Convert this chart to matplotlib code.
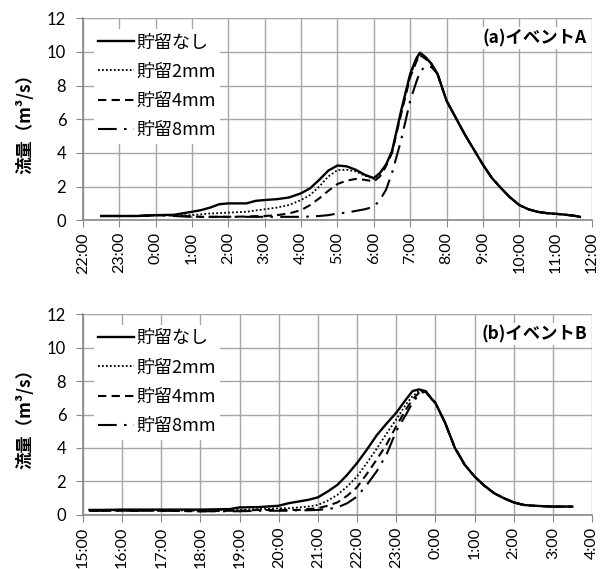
from matplotlib import pyplot as plt
from matplotlib.ticker import MultipleLocator

plt.rcParams['font.family'] = ['Lato', 'Noto Sans CJK JP', 'DejaVu Sans']

legend_names = ["貯留なし", "貯留2mm", "貯留4mm", "貯留8mm"]

# event A (start of axis = 22:00)
a_start = "22:00"
a_ticks = ["22:00", "23:00", "0:00", "1:00", "2:00", "3:00", "4:00", "5:00",
           "6:00", "7:00", "8:00", "9:00", "10:00", "11:00", "12:00"]
a_times = ["22:30", "23:00", "23:30", "0:00", "0:30", "1:00", "1:15", "1:30", "1:45", "2:00",
           "2:30", "2:45", "3:00", "3:20", "3:40", "4:00", "4:15", "4:30", "4:45", "5:00",
           "5:15", "5:30", "5:45", "6:00", "6:10", "6:20", "6:30", "6:45", "7:00", "7:10",
           "7:16", "7:25", "7:35", "7:45", "8:00", "8:15", "8:30", "8:45", "9:00", "9:15",
           "9:30", "9:45", "10:00", "10:15", "10:30", "10:45", "11:00", "11:15", "11:30", "11:40"]
a_tail = [7.1, 6.1, 5.1, 4.2, 3.3, 2.5, 1.9, 1.35, 0.9, 0.65, 0.5, 0.42, 0.38, 0.33, 0.27, 0.2]
a_none = [0.25, 0.25, 0.25, 0.3, 0.32, 0.5, 0.6, 0.75, 0.95, 1.0,
          1.0, 1.15, 1.2, 1.25, 1.35, 1.6, 1.9, 2.4, 2.95, 3.25,
          3.2, 3.0, 2.7, 2.5, 2.8, 3.3, 4.1, 6.5, 8.7, 9.6,
          9.95, 9.7, 9.3, 8.7] + a_tail
a_2mm = [0.25, 0.25, 0.25, 0.3, 0.3, 0.3, 0.35, 0.4, 0.42, 0.45,
         0.5, 0.58, 0.65, 0.75, 0.9, 1.2, 1.5, 2.0, 2.6, 2.98,
         3.0, 2.9, 2.65, 2.45, 2.75, 3.25, 4.05, 6.4, 8.6, 9.5,
         9.85, 9.65, 9.3, 8.7] + a_tail
a_4mm = [0.25, 0.25, 0.25, 0.3, 0.28, 0.22, 0.2, 0.2, 0.2, 0.2,
         0.22, 0.24, 0.25, 0.3, 0.4, 0.6, 0.9, 1.3, 1.75, 2.15,
         2.35, 2.45, 2.4, 2.3, 2.6, 3.2, 4.0, 6.3, 8.5, 9.4,
         9.8, 9.6, 9.25, 8.7] + a_tail
a_8mm = [0.25, 0.25, 0.25, 0.3, 0.25, 0.2, 0.2, 0.2, 0.2, 0.2,
         0.2, 0.2, 0.2, 0.2, 0.2, 0.2, 0.22, 0.25, 0.3, 0.4,
         0.45, 0.55, 0.65, 0.8, 1.2, 1.8, 2.8, 4.75, 7.1, 8.2,
         8.8, 9.15, 9.1, 8.7] + a_tail

# event B (start of axis = 15:00)
b_start = "15:00"
b_ticks = ["15:00", "16:00", "17:00", "18:00", "19:00", "20:00", "21:00", "22:00",
           "23:00", "0:00", "1:00", "2:00", "3:00", "4:00"]
b_times = ["15:10", "15:30", "16:00", "17:00", "18:00", "18:45", "19:00", "19:30", "20:00", "20:15",
           "20:30", "20:45", "21:00", "21:15", "21:30", "21:45", "22:00", "22:15", "22:30", "22:45",
           "23:00", "23:15", "23:25", "23:35", "23:45", "23:55", "0:00", "0:15", "0:30", "0:45",
           "1:00", "1:15", "1:30", "1:45", "2:00", "2:15", "2:30", "3:00", "3:30"]
b_tail = [6.9, 6.7, 5.5, 4.0, 3.0, 2.3, 1.75, 1.3, 1.0, 0.75, 0.6, 0.55, 0.5, 0.5]
b_none = [0.3, 0.3, 0.32, 0.32, 0.32, 0.35, 0.45, 0.47, 0.55, 0.7,
          0.8, 0.9, 1.05, 1.4, 1.8, 2.4, 3.1, 3.9, 4.75, 5.45,
          6.1, 6.9, 7.4, 7.5, 7.4] + b_tail
b_2mm = [0.25, 0.25, 0.28, 0.28, 0.25, 0.3, 0.3, 0.35, 0.4, 0.4,
         0.45, 0.5, 0.6, 0.85, 1.2, 1.7, 2.3, 3.1, 3.95, 4.85,
         5.7, 6.6, 7.1, 7.4, 7.35] + b_tail
b_4mm = [0.25, 0.25, 0.25, 0.25, 0.22, 0.25, 0.25, 0.3, 0.3, 0.3,
         0.3, 0.35, 0.4, 0.55, 0.75, 1.15, 1.65, 2.45, 3.3, 4.2,
         5.3, 6.3, 6.9, 7.3, 7.35] + b_tail
b_8mm = [0.25, 0.25, 0.25, 0.25, 0.22, 0.22, 0.22, 0.25, 0.25, 0.25,
         0.28, 0.28, 0.3, 0.35, 0.45, 0.7, 1.1, 1.8, 2.6, 3.6,
         5.0, 6.0, 6.7, 7.2, 7.4] + b_tail


def to_hours(label, start):
    h, m = map(int, label.split(":"))
    h0, m0 = map(int, start.split(":"))
    diff = (h + m / 60) - (h0 + m0 / 60)
    if diff < 0:
        diff += 24
    return diff


styles = [
    dict(linestyle="-", linewidth=1.7),
    dict(linestyle=(0, (1, 1.2)), linewidth=1.3),
    dict(linestyle=(0, (4, 2.5)), linewidth=1.5),
    dict(linestyle=(0, (9, 3.5, 1.2, 3.5)), linewidth=1.5),
]


def draw_event(ax, start, ticks, times, series, label):
    x = [to_hours(t, start) for t in times]
    for values, name, style in zip(series, legend_names, styles):
        ax.plot(x, values, color="black", label=name, **style)

    # one tick per hour
    tick_pos = list(range(len(ticks)))
    ax.set_xticks(tick_pos)
    ax.set_xticklabels(ticks, rotation=90, fontsize=11.5)
    ax.set_xlim(0, len(ticks) - 1)
    ax.set_ylim(0, 12)
    ax.yaxis.set_major_locator(MultipleLocator(2))
    ax.tick_params(axis="y", labelsize=12, length=5, pad=7, color="#888888")
    ax.tick_params(axis="x", length=5, color="#888888")
    ax.grid(True, color="#a6a6a6", linewidth=1)
    ax.set_axisbelow(True)
    for side in ["top", "right"]:
        ax.spines[side].set_visible(False)
    for side in ["left", "bottom"]:
        ax.spines[side].set_color("#888888")
        ax.spines[side].set_linewidth(1.2)
    ax.set_ylabel("流量（m³/s）", fontsize=12.5, fontweight="bold", labelpad=9,
                  family=["Noto Sans CJK JP", "DejaVu Sans"])

    leg = ax.legend(loc="upper left", bbox_to_anchor=(0.0, 1.0), frameon=True,
                    fancybox=False, edgecolor="none", framealpha=1,
                    handlelength=2.0, handletextpad=0.1, borderpad=0.25,
                    labelspacing=0.62, borderaxespad=0.6,
                    prop=dict(family=["Noto Sans CJK JP"], size=13))
    leg.get_frame().set_linewidth(0)
    ax.text(0.99, 0.9, label, transform=ax.transAxes, ha="right", va="center",
            fontsize=12.5, fontweight="bold", family=["Noto Sans CJK JP"],
            bbox=dict(facecolor="white", edgecolor="none", pad=1.5))


fig = plt.figure(figsize=(6.01, 5.69), dpi=100)
ax_a = fig.add_axes([0.138, 0.613, 0.847, 0.355])
ax_b = fig.add_axes([0.138, 0.095, 0.847, 0.353])

draw_event(ax_a, a_start, a_ticks, a_times, [a_none, a_2mm, a_4mm, a_8mm], "(a)イベントA")
draw_event(ax_b, b_start, b_ticks, b_times, [b_none, b_2mm, b_4mm, b_8mm], "(b)イベントB")

fig.savefig("out.png", dpi=100)
